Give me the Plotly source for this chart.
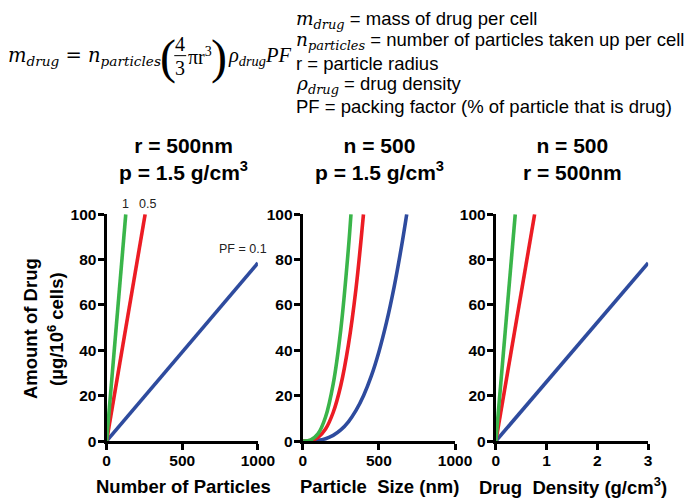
import plotly.graph_objects as go

# reference canvas (all positions below are given in reference pixels)
W, H = 688, 500
# the figure is made slightly larger; the photo maps it back onto 688x500
FW, FH = 706, 508

# ---------------- data ----------------
pf_labels = ["PF = 0.1", "0.5", "1"]
colors = ["#2e4b9e", "#ec1c24", "#3ab54a"]

n_blue_x = [0, 1000]
n_blue_y = [0, 78.5]
n_red_x = [0, 255]
n_red_y = [0, 100]
n_green_x = [0, 127]
n_green_y = [0, 100]

r_blue_x = [0, 50, 100, 150, 200, 250, 300, 350, 400, 450, 500, 550, 600, 650, 683]
r_blue_y = [0, 0.04, 0.31, 1.06, 2.51, 4.91, 8.48, 13.5, 20.1, 28.6, 39.3, 52.3, 67.9, 86.3, 100]
r_red_x = [0, 50, 100, 150, 200, 250, 300, 350, 399]
r_red_y = [0, 0.2, 1.57, 5.3, 12.6, 24.5, 42.4, 67.3, 100]
r_green_x = [0, 50, 100, 150, 200, 250, 300, 317]
r_green_y = [0, 0.39, 3.14, 10.6, 25.1, 49.1, 84.8, 100]

d_blue_x = [0, 3]
d_blue_y = [0, 78.5]
d_red_x = [0, 0.764]
d_red_y = [0, 100]
d_green_x = [0, 0.382]
d_green_y = [0, 100]

y_ticks = [0, 20, 40, 60, 80, 100]
x1_ticks = [0, 500, 1000]
x2_ticks = [0, 500, 1000]
x3_ticks = [0, 1, 2, 3]

panel_titles = ["r = 500nm<br>p = 1.5 g/cm<sup>3</sup>",
                "n = 500<br>p = 1.5 g/cm<sup>3</sup>",
                "n = 500<br>r = 500nm"]
x_titles = ["Number of Particles",
            "Particle \u00a0Size (nm)",
            "Drug \u00a0Density (g/cm<sup>3</sup>)"]

# ---------------- figure ----------------
def px(x):
    return x / W

def py(y):
    return 1 - y / H

SANS = "Liberation Sans, Arial, sans-serif"
SERIF = "DejaVu Serif, serif"
TIMES = "Liberation Serif, serif"

fig = go.Figure()

panels = [
    ([n_blue_x, n_red_x, n_green_x], [n_blue_y, n_red_y, n_green_y], "x", "y"),
    ([r_blue_x, r_red_x, r_green_x], [r_blue_y, r_red_y, r_green_y], "x2", "y2"),
    ([d_blue_x, d_red_x, d_green_x], [d_blue_y, d_red_y, d_green_y], "x3", "y3"),
]
for i, (xs, ys, xa, ya) in enumerate(panels):
    for k in range(3):
        fig.add_trace(go.Scatter(
            x=xs[k], y=ys[k], mode="lines", xaxis=xa, yaxis=ya,
            line=dict(color=colors[k], width=3.6, shape="spline" if i == 1 else "linear"),
            showlegend=False, hoverinfo="skip"))

xdoms = [(103, 255), (300, 453), (494, 647)]
ydom = [py(440), py(209)]
xranges = [[0, 1000], [0, 1000], [0, 3]]
xticks = [x1_ticks, x2_ticks, x3_ticks]

axis_common = dict(showline=True, linewidth=3, linecolor="black", ticks="outside",
                   ticklen=6, tickwidth=3, tickcolor="black", showgrid=False,
                   zeroline=False, fixedrange=True,
                   tickfont=dict(family=SANS, size=15.5, color="black", weight="bold"))

for i in range(3):
    sfx = "" if i == 0 else str(i + 1)
    fig.update_layout(**{
        "xaxis" + sfx: dict(domain=[px(xdoms[i][0]), px(xdoms[i][1])], range=xranges[i],
                            tickvals=xticks[i], anchor="y" + sfx, ticklabelstandoff=-3,
                            **axis_common),
        "yaxis" + sfx: dict(domain=ydom, range=[0, 100], tickvals=y_ticks,
                            anchor="x" + sfx, ticklabelstandoff=-2, **axis_common),
    })

ann = []

def add(x, y, text, font, xanchor="center", yanchor="middle", **kw):
    ann.append(dict(x=px(x), y=py(y), xref="paper", yref="paper", text=text,
                    showarrow=False, xanchor=xanchor, yanchor=yanchor, font=font, **kw))

title_font = dict(family=SANS, size=21, color="black", weight="bold")
axt_font = dict(family=SANS, size=18.5, color="black", weight="bold")
centers = [180, 377, 571]
for i in range(3):
    add(centers[i], 153, panel_titles[i], title_font)
    add(centers[i], 486, x_titles[i], axt_font)

add(26, 325, "Amount of Drug", axt_font, textangle=-90)
add(52, 326, "(\u00b5g/10<sup>6</sup> cells)", axt_font, textangle=-90)

lab_font = dict(family=SANS, size=12.5, color="#222")
add(122, 199, pf_labels[2], lab_font)
add(144, 199, pf_labels[1], lab_font)
add(240, 244, pf_labels[0], lab_font)

eq_font = dict(family=SERIF, size=19.5, color="black")
eq2_font = dict(family=TIMES, size=20.5, color="black")
num_font = dict(family=TIMES, size=20, color="black")
paren_font = dict(family=TIMES, size=48, color="black")
add(160, 48, "<i>m</i><sub><i>drug</i></sub> = <i>n</i><sub><i>particles</i></sub>", eq_font,
    xanchor="right")
add(165, 49, "(", paren_font)
add(177, 36, "4", num_font)
add(177, 60, "3", num_font)
add(183, 48, "\u03c0r<sup>3</sup>", num_font, xanchor="left")
add(216, 49, ")", paren_font)
add(223, 48, "<i>\u03c1</i><sub><i>drug</i></sub><i>PF</i>", eq2_font, xanchor="left")

def mathspan(s):
    return '<span style="font-family:DejaVu Serif">' + s + "</span>"

defs = [
    mathspan("<i>m</i><sub><i>drug</i></sub>") + " = mass of drug per cell",
    mathspan("<i>n</i><sub><i>particles</i></sub>") + " = number of particles taken up per cell",
    "r = particle radius",
    mathspan("<i>\u03c1</i><sub><i>drug</i></sub>") + " = drug density",
    "PF = packing factor (% of particle that is drug)",
]
def_y = [11, 33, 55, 77, 99]
def_font = dict(family=SANS, size=18.5, color="black")
for t, yy in zip(defs, def_y):
    add(291, yy, t, def_font, xanchor="left")

fig.update_layout(
    width=FW, height=FH, margin=dict(l=0, r=0, t=0, b=0),
    paper_bgcolor="white", plot_bgcolor="white",
    annotations=ann,
    shapes=[dict(type="line", xref="paper", yref="paper", x0=px(171), x1=px(183),
                 y0=py(47.5), y1=py(47.5), line=dict(color="black", width=1))],
)

fig.write_html("out.html", config={"displayModeBar": False},
               post_script="document.body.style.margin='0px';"
                           "document.body.style.overflow='hidden';")
